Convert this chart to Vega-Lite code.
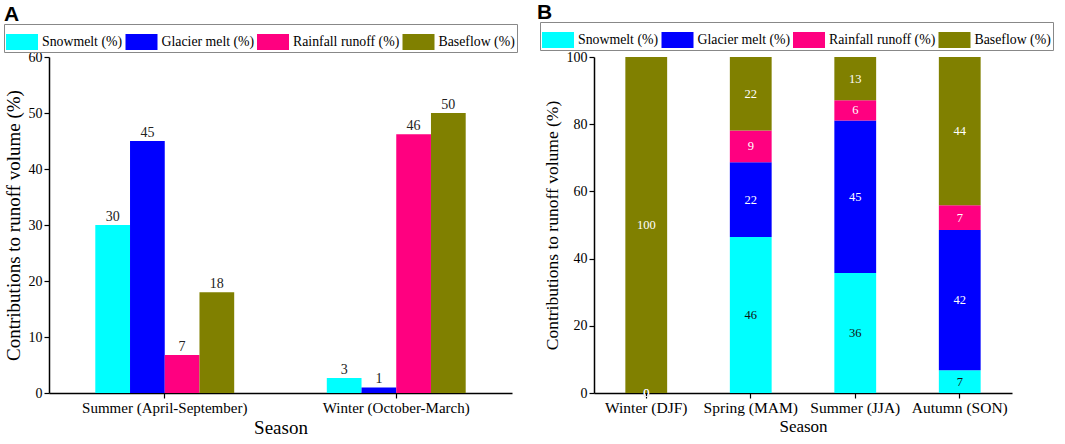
{
  "$schema": "https://vega.github.io/schema/vega-lite/v6.json",
  "padding": {"left": 3, "top": 1, "right": 5, "bottom": 0},
  "background": "white",
  "datasets": {
    "annual": [
      {"season": "Summer (April-September)", "component": "Snowmelt (%)", "value": 30},
      {"season": "Summer (April-September)", "component": "Glacier melt (%)", "value": 45},
      {"season": "Summer (April-September)", "component": "Rainfall runoff (%)", "value": 6.8},
      {"season": "Summer (April-September)", "component": "Baseflow (%)", "value": 18},
      {"season": "Winter (October-March)", "component": "Snowmelt (%)", "value": 2.7},
      {"season": "Winter (October-March)", "component": "Glacier melt (%)", "value": 1},
      {"season": "Winter (October-March)", "component": "Rainfall runoff (%)", "value": 46.2},
      {"season": "Winter (October-March)", "component": "Baseflow (%)", "value": 50}
    ],
    "seasonal": [
      {"season": "Winter (DJF)", "component": "Snowmelt (%)", "idx": 1, "value": 0},
      {"season": "Winter (DJF)", "component": "Glacier melt (%)", "idx": 2, "value": 0},
      {"season": "Winter (DJF)", "component": "Rainfall runoff (%)", "idx": 3, "value": 0},
      {"season": "Winter (DJF)", "component": "Baseflow (%)", "idx": 4, "value": 100},
      {"season": "Spring (MAM)", "component": "Snowmelt (%)", "idx": 1, "value": 46.4},
      {"season": "Spring (MAM)", "component": "Glacier melt (%)", "idx": 2, "value": 22.3},
      {"season": "Spring (MAM)", "component": "Rainfall runoff (%)", "idx": 3, "value": 9.4},
      {"season": "Spring (MAM)", "component": "Baseflow (%)", "idx": 4, "value": 21.9},
      {"season": "Summer (JJA)", "component": "Snowmelt (%)", "idx": 1, "value": 35.7},
      {"season": "Summer (JJA)", "component": "Glacier melt (%)", "idx": 2, "value": 45.4},
      {"season": "Summer (JJA)", "component": "Rainfall runoff (%)", "idx": 3, "value": 6.0},
      {"season": "Summer (JJA)", "component": "Baseflow (%)", "idx": 4, "value": 12.9},
      {"season": "Autumn (SON)", "component": "Snowmelt (%)", "idx": 1, "value": 6.8},
      {"season": "Autumn (SON)", "component": "Glacier melt (%)", "idx": 2, "value": 41.7},
      {"season": "Autumn (SON)", "component": "Rainfall runoff (%)", "idx": 3, "value": 7.4},
      {"season": "Autumn (SON)", "component": "Baseflow (%)", "idx": 4, "value": 44.1}
    ]
  },
  "bounds": "flush",
  "spacing": 82,
  "resolve": {"legend": {"color": "independent"}, "scale": {"x": "independent", "y": "independent"}},
  "hconcat": [
    {
      "title": {"text": "A", "anchor": "start", "frame": "group", "dx": -45, "fontSize": 21, "font": "Liberation Sans", "fontWeight": "bold", "offset": -1},
      "width": 463,
      "height": 336,
      "data": {"name": "annual"},
      "encoding": {
        "x": {
          "field": "season", "type": "nominal",
          "sort": ["Summer (April-September)", "Winter (October-March)"],
          "scale": {"paddingInner": 0.4, "paddingOuter": 0.2},
          "axis": {"title": "Season", "labelAngle": 0, "titleFontSize": 19, "labelFontSize": 15, "titlePadding": 3}
        },
        "xOffset": {
          "field": "component", "type": "nominal",
          "sort": ["Snowmelt (%)", "Glacier melt (%)", "Rainfall runoff (%)", "Baseflow (%)"],
          "scale": {"paddingInner": 0, "paddingOuter": 0}
        },
        "y": {
          "field": "value", "type": "quantitative",
          "scale": {"domain": [0, 60], "nice": false},
          "axis": {"title": "Contributions to runoff volume (%)", "values": [0, 10, 20, 30, 40, 50, 60], "titleFontSize": 19, "labelFontSize": 14, "titlePadding": 5}
        }
      },
      "layer": [
        {
          "mark": {"type": "bar"},
          "encoding": {
            "color": {
              "field": "component", "type": "nominal",
              "scale": {"domain": ["Snowmelt (%)", "Glacier melt (%)", "Rainfall runoff (%)", "Baseflow (%)"], "range": ["#00FFFF", "#0000FF", "#FF0080", "#808000"]},
              "legend": {"orient": "none", "legendX": -45, "legendY": -33, "direction": "horizontal", "columns": 4, "title": null}
            }
          }
        },
        {
          "mark": {"type": "text", "baseline": "bottom", "dy": -1, "fontSize": 14, "color": "#222"},
          "encoding": {"text": {"field": "value", "type": "quantitative", "format": ".0f"}}
        }
      ]
    },
    {
      "title": {"text": "B", "anchor": "start", "frame": "group", "dx": -57, "fontSize": 21, "font": "Liberation Sans", "fontWeight": "bold", "offset": -1},
      "width": 418,
      "height": 336,
      "data": {"name": "seasonal"},
      "encoding": {
        "x": {
          "field": "season", "type": "nominal",
          "sort": ["Winter (DJF)", "Spring (MAM)", "Summer (JJA)", "Autumn (SON)"],
          "scale": {"paddingInner": 0.6, "paddingOuter": 0.3},
          "axis": {"title": "Season", "labelAngle": 0, "titleFontSize": 17, "labelFontSize": 15.5, "titlePadding": 3}
        },
        "y": {
          "field": "value", "type": "quantitative", "stack": "zero",
          "scale": {"domain": [0, 100], "nice": false},
          "axis": {"title": "Contributions to runoff volume (%)", "values": [0, 20, 40, 60, 80, 100], "titleFontSize": 17.5, "labelFontSize": 14, "titlePadding": 5}
        },
        "order": {"field": "idx", "type": "quantitative"}
      },
      "layer": [
        {
          "mark": {"type": "bar"},
          "encoding": {
            "color": {
              "field": "component", "type": "nominal",
              "scale": {"domain": ["Snowmelt (%)", "Glacier melt (%)", "Rainfall runoff (%)", "Baseflow (%)"], "range": ["#00FFFF", "#0000FF", "#FF0080", "#808000"]},
              "legend": {"orient": "none", "legendX": -54, "legendY": -35, "direction": "horizontal", "columns": 4, "title": null}
            }
          }
        },
        {
          "mark": {"type": "text", "baseline": "middle", "fontSize": 12.5},
          "encoding": {
            "y": {"field": "value", "type": "quantitative", "stack": "zero", "bandPosition": 0.5},
            "text": {"field": "value", "type": "quantitative", "format": ".0f"},
            "color": {"condition": {"test": "datum.component === 'Snowmelt (%)'", "value": "#111"}, "value": "white"}
          }
        }
      ]
    }
  ],
  "config": {
    "view": {"stroke": null},
    "font": "Times New Roman, Liberation Serif, serif",
    "text": {"font": "Times New Roman, Liberation Serif, serif"},
    "axis": {
      "domainColor": "black", "domainWidth": 1.5, "tickColor": "black", "tickWidth": 1.2, "tickSize": 5,
      "labelColor": "black", "titleColor": "black", "grid": false,
      "labelFont": "Times New Roman, Liberation Serif, serif", "titleFont": "Times New Roman, Liberation Serif, serif", "titleFontWeight": "normal"
    },
    "legend": {
      "labelFont": "Times New Roman, Liberation Serif, serif", "labelFontSize": 13.8, "labelColor": "black",
      "symbolType": "M-1,-0.5H1V0.5H-1Z", "symbolSize": 1024, "symbolStrokeWidth": 0, "symbolOpacity": 1,
      "labelOffset": 4, "columnPadding": 2.5, "padding": 2, "strokeColor": "#888", "strokeWidth": 1, "labelLimit": 300
    },
    "title": {"color": "black"}
  }
}
